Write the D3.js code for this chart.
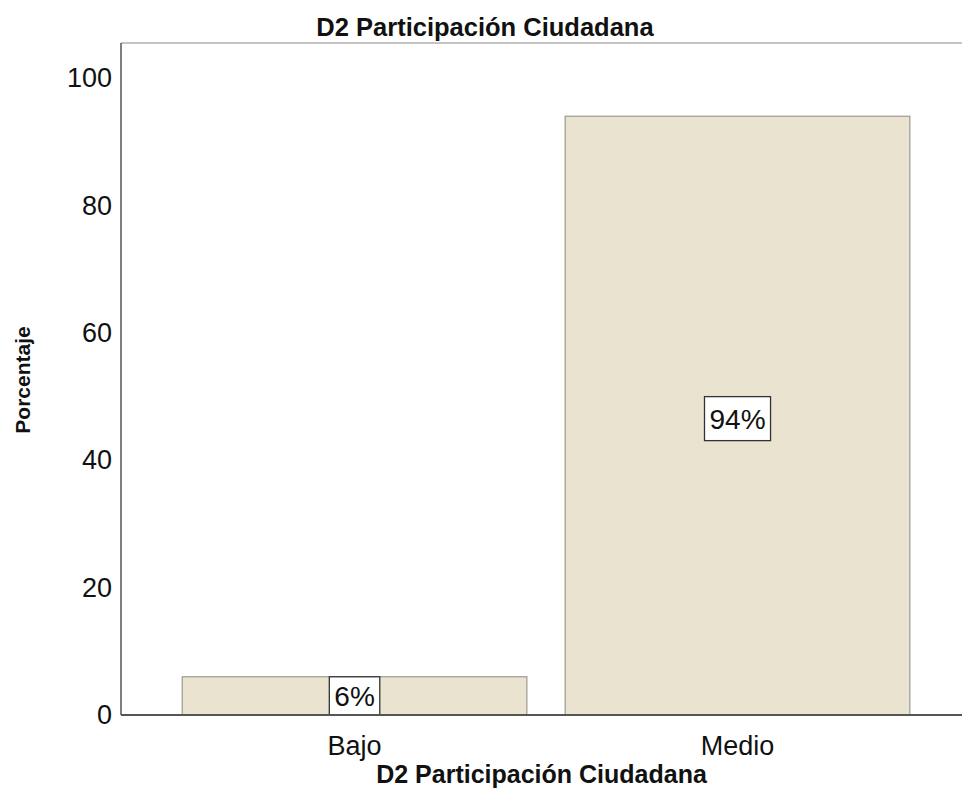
<!DOCTYPE html>
<html>
<head>
<meta charset="utf-8">
<script src="https://cdn.jsdelivr.net/npm/d3@7"></script>
<style>
  html, body { margin: 0; padding: 0; background: #ffffff; }
  svg { display: block; font-family: "Liberation Sans", Arial, sans-serif; }
</style>
</head>
<body>
<svg id="chart" width="962" height="811"></svg>
<script>
const categories = ["Bajo", "Medio"];
const values = [6, 94];
const valueLabels = ["6%", "94%"];
const yTicks = [0, 20, 40, 60, 80, 100];
const chartTitle = "D2 Participación Ciudadana";
const xTitle = "D2 Participación Ciudadana";
const yTitle = "Porcentaje";

const svg = d3.select("#chart");
const pLeft = 121, pRight = 962, pTop = 43, pBottom = 715;

const x = d3.scaleBand().domain(categories).range([pLeft, pRight])
  .paddingInner(0.1).paddingOuter(0.148).align(0.54);
const y = d3.scaleLinear().domain([0, 105.5]).range([pBottom, pTop]);

// top frame line
svg.append("line").attr("x1", pLeft).attr("x2", pRight).attr("y1", pTop).attr("y2", pTop)
  .attr("stroke", "#8a8a8a").attr("stroke-width", 1.2);

// bars
svg.selectAll("rect.bar").data(categories).enter().append("rect")
  .attr("class", "bar")
  .attr("x", d => x(d))
  .attr("width", x.bandwidth())
  .attr("y", (d, i) => y(values[i]))
  .attr("height", (d, i) => y(0) - y(values[i]))
  .attr("fill", "#e9e3d0")
  .attr("stroke", "#9a9a92")
  .attr("stroke-width", 1.2);

// value labels
const lbl = svg.selectAll("g.vlabel").data(categories).enter().append("g").attr("class", "vlabel");
lbl.each(function(d, i) {
  const g = d3.select(this);
  const cx = x(d) + x.bandwidth() / 2;
  const barTop = y(values[i]);
  const barH = y(0) - barTop;
  const h = Math.min(44, barH);
  const cy = barTop + barH / 2 + (barH > 44 ? 3 : 0);
  const t = g.append("text").attr("x", cx).attr("y", cy)
    .attr("text-anchor", "middle").attr("dy", "0.36em")
    .attr("font-size", 28).attr("fill", "#111").text(valueLabels[i]);
  const w = t.node().getComputedTextLength() + 10;
  g.insert("rect", "text").attr("x", cx - w / 2).attr("y", cy - h / 2)
    .attr("width", w).attr("height", h)
    .attr("fill", "#ffffff").attr("stroke", "#333").attr("stroke-width", 1.3);
});

// y axis
const yAxis = d3.axisLeft(y).tickValues(yTicks).tickSize(0).tickPadding(9);
const gy = svg.append("g").attr("transform", `translate(${pLeft},0)`).call(yAxis);
gy.select(".domain").remove();
gy.selectAll("text").attr("font-size", 27).attr("fill", "#111")
  .attr("font-family", "'Liberation Sans', Arial, sans-serif");
svg.append("line").attr("x1", pLeft).attr("x2", pLeft).attr("y1", pTop).attr("y2", pBottom)
  .attr("stroke", "#555").attr("stroke-width", 1.5);

// x axis
const xAxis = d3.axisBottom(x).tickSize(0).tickPadding(21);
const gx = svg.append("g").attr("transform", `translate(0,${pBottom})`).call(xAxis);
gx.select(".domain").remove();
gx.selectAll("text").attr("font-size", 27).attr("fill", "#111")
  .attr("font-family", "'Liberation Sans', Arial, sans-serif");
svg.append("line").attr("x1", pLeft).attr("x2", pRight).attr("y1", pBottom).attr("y2", pBottom)
  .attr("stroke", "#555").attr("stroke-width", 1.8);

// titles
svg.append("text").attr("x", 485).attr("y", 36).attr("text-anchor", "middle")
  .attr("font-size", 25.5).attr("font-weight", "bold").attr("fill", "#111").text(chartTitle);
svg.append("text").attr("x", (pLeft + pRight) / 2).attr("y", 783).attr("text-anchor", "middle")
  .attr("font-size", 25).attr("font-weight", "bold").attr("fill", "#111").text(xTitle);
svg.append("text").attr("transform", "translate(30,380) rotate(-90)").attr("text-anchor", "middle")
  .attr("font-size", 21).attr("font-weight", "bold").attr("fill", "#111").text(yTitle);
</script>
</body>
</html>
